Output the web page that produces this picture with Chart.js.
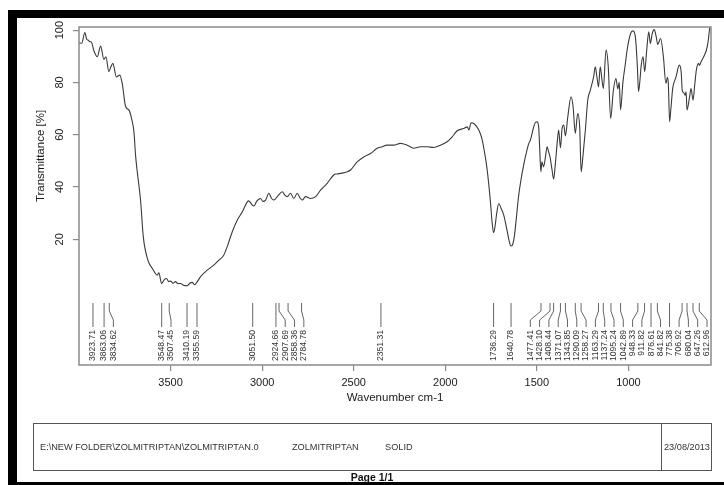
<!DOCTYPE html>
<html>
<head>
<meta charset="utf-8">
<title>ZOLMITRIPTAN IR spectrum</title>
<script src="https://cdn.jsdelivr.net/npm/chart.js@4.4.1/dist/chart.umd.min.js"></script>
<style>
  html, body { margin: 0; padding: 0; background: #fff; width: 724px; height: 485px; overflow: hidden; }
  #page { position: relative; width: 724px; height: 485px; overflow: hidden; background: #fff;
          font-family: "Liberation Sans", Arial, sans-serif; }
  #spec { position: absolute; left: 0; top: 0; }
  .bar { position: absolute; background: #000; }
  #footer { position: absolute; left: 33px; top: 423px; width: 679px; height: 48px;
            border: 1px solid #555; box-sizing: border-box; }
  #footer .sep { position: absolute; left: 627px; top: 0; bottom: 0; border-left: 1px solid #555; }
  .ft { position: absolute; font-size: 9.2px; color: #333; white-space: nowrap; line-height: 11px; }
  #pageno { position: absolute; left: 0; width: 744px; top: 471px; text-align: center;
            font-weight: bold; font-size: 10.5px; color: #111; }
</style>
</head>
<body>
<div id="page">
  <canvas id="spec" width="724" height="412"></canvas>
  <div class="bar" style="left:8px;top:10px;width:716px;height:8px"></div>
  <div class="bar" style="left:8px;top:10px;width:9px;height:475px"></div>
  <div class="bar" style="left:8px;top:482px;width:716px;height:3px"></div>
  <div id="footer"><div class="sep"></div></div>
  <div class="ft" style="left:40px;top:442px">E:\NEW FOLDER\ZOLMITRIPTAN\ZOLMITRIPTAN.0</div>
  <div class="ft" style="left:292px;top:442px">ZOLMITRIPTAN</div>
  <div class="ft" style="left:385px;top:442px">SOLID</div>
  <div class="ft" style="left:664px;top:442px">23/08/2013</div>
  <div id="pageno">Page 1/1</div>
</div>
<script>
// Spectrum trace: wavenumber (cm-1) and transmittance (%)
const wavenumber = [
  4000, 3985, 3968, 3958, 3951, 3940, 3933, 3918, 3900, 3882,
  3864, 3853, 3837, 3826, 3815, 3796, 3777, 3764, 3746, 3727,
  3713, 3700, 3691, 3683, 3664, 3649, 3624, 3600, 3573, 3564,
  3549, 3535, 3522, 3510, 3500, 3486, 3473, 3460, 3445, 3430,
  3409, 3395, 3382, 3368, 3354, 3336, 3300, 3264, 3236, 3209,
  3191, 3163, 3136, 3108, 3081, 3073, 3054, 3045, 3030, 3018,
  3009, 2995, 2981, 2963, 2950, 2936, 2915, 2890, 2875, 2863,
  2845, 2827, 2808, 2795, 2781, 2763, 2736, 2708, 2681, 2645,
  2609, 2590, 2572, 2535, 2517, 2481, 2445, 2408, 2372, 2344,
  2317, 2281, 2245, 2208, 2172, 2135, 2099, 2063, 2026, 1990,
  1962, 1935, 1899, 1880, 1871, 1859, 1841, 1817, 1800, 1785,
  1772, 1753, 1745, 1736, 1728, 1720, 1708, 1695, 1681, 1663,
  1650, 1641, 1632, 1623, 1612, 1600, 1586, 1572, 1554, 1544,
  1535, 1517, 1506, 1499, 1490, 1484, 1478, 1472, 1463, 1452,
  1444, 1436, 1428, 1418, 1408, 1400, 1390, 1381, 1371, 1362,
  1353, 1344, 1331, 1313, 1302, 1290, 1277, 1266, 1258, 1248,
  1235, 1222, 1208, 1190, 1181, 1172, 1163, 1154, 1145, 1137,
  1122, 1110, 1097, 1082, 1068, 1058, 1050, 1043, 1030, 1015,
  1007, 988, 975, 962, 951, 945, 938, 930, 920, 911,
  900, 889, 880, 870, 859, 848, 840, 824, 809, 795,
  787, 782, 775, 768, 758, 740, 722, 712, 706, 697,
  690, 685, 680, 666, 658, 647, 638, 629, 617, 612,
  603, 585, 574, 565, 556
];
const transmittance = [
  95.1, 95.0, 99.1, 96.5, 96.2, 95.6, 95.5, 92.0, 89.8, 93.9,
  88.8, 89.8, 84.1, 86.0, 87.3, 82.1, 82.8, 79.6, 70.9, 69.4,
  66.2, 61.1, 52.0, 46.5, 35.0, 21.0, 12.0, 8.9, 6.3, 7.2,
  3.1, 4.5, 5.0, 3.8, 4.0, 3.2, 3.8, 3.0, 3.1, 2.4,
  2.2, 3.2, 3.5, 2.6, 3.8, 5.7, 8.2, 10.1, 12.0, 14.0,
  17.1, 22.9, 27.3, 30.5, 34.3, 34.7, 33.1, 32.7, 34.5, 35.3,
  35.6, 34.5, 35.0, 37.6, 35.8, 35.0, 36.5, 38.2, 36.8, 36.3,
  37.6, 35.6, 37.6, 36.0, 35.0, 36.3, 35.6, 36.3, 38.8, 41.4,
  44.6, 45.0, 45.2, 45.8, 46.5, 49.6, 51.5, 52.8, 54.8, 55.4,
  56.0, 56.0, 56.7, 56.0, 54.8, 55.4, 55.4, 55.1, 56.0, 57.3,
  59.2, 61.5, 62.4, 63.0, 61.8, 64.6, 64.1, 61.8, 58.5, 53.0,
  47.0, 34.0, 27.0, 22.5, 25.0, 29.5, 33.7, 31.8, 29.3, 23.5,
  19.0, 17.4, 18.0, 21.0, 28.0, 36.3, 43.0, 48.4, 54.1, 56.7,
  58.0, 63.0, 64.8, 64.9, 63.0, 54.0, 45.8, 49.6, 47.7, 52.0,
  55.4, 53.5, 51.5, 47.0, 43.0, 48.0, 56.0, 61.8, 55.0, 62.5,
  63.7, 59.5, 66.8, 74.5, 70.7, 60.5, 68.1, 63.0, 45.8, 52.0,
  61.8, 73.2, 77.0, 82.1, 86.0, 82.1, 78.3, 86.0, 81.5, 77.7,
  92.4, 86.0, 66.2, 77.0, 81.5, 77.5, 80.0, 69.5, 80.0, 88.0,
  92.4, 98.7, 99.7, 97.4, 86.0, 76.5, 80.0, 86.6, 89.8, 84.1,
  92.4, 99.4, 94.9, 98.7, 100.2, 97.4, 94.5, 96.8, 89.8, 79.6,
  82.0, 79.5, 65.0, 70.0, 77.7, 82.1, 86.6, 84.1, 77.0, 76.0,
  75.1, 76.4, 69.4, 74.5, 77.7, 73.2, 79.0, 84.7, 87.3, 86.5,
  87.9, 90.4, 92.4, 95.5, 101.0
];

// Picked peak positions (cm-1)
const peakPositions = [
  3923.71, 3863.06, 3834.62, 3548.47, 3507.45, 3410.19, 3355.59, 3051.50,
  2924.66, 2907.69, 2858.36, 2784.78, 2351.31, 1736.29, 1640.78,
  1477.41, 1428.10, 1408.44, 1371.07, 1343.85, 1290.09, 1258.27, 1163.29,
  1137.24, 1095.24, 1042.89, 948.33, 911.82, 876.61, 841.82, 775.38,
  706.92, 680.04, 647.26, 612.96
];

const xTickValues = [1000, 1500, 2000, 2500, 3000, 3500];
const yTickValues = [20, 40, 60, 80, 100];

const FONT = '"Liberation Sans", Arial, sans-serif';
const AXIS_GREY = '#8a8a8a';

// Box around the plot, y-axis caption and the peak annotation leaders
const framePeaks = {
  id: 'framePeaks',
  afterDatasetsDraw(chart) {
    const { ctx, chartArea: a, scales: { x } } = chart;
    ctx.save();

    // spread labels so neighbouring texts do not collide
    const gap = 9.3;
    const px = peakPositions.map(v => x.getPixelForValue(v));
    const order = px.map((_, i) => i).sort((i, j) => px[i] - px[j]);
    const pos = new Array(px.length);
    let prev = -Infinity;
    order.forEach(i => { pos[i] = Math.max(px[i], prev + gap); prev = pos[i]; });
    let next = a.right - 4 + gap;
    order.slice().reverse().forEach(i => { pos[i] = Math.min(pos[i], next - gap); next = pos[i]; });

    const yTop = a.bottom - 62, yB1 = a.bottom - 54, yB2 = a.bottom - 45, yEnd = a.bottom - 38;
    const yText = a.bottom - 35;
    ctx.strokeStyle = '#555';
    ctx.lineWidth = 0.9;
    ctx.fillStyle = '#333';
    ctx.font = '8.6px ' + FONT;
    peakPositions.forEach((v, i) => {
      ctx.beginPath();
      ctx.moveTo(px[i], yTop);
      if (Math.abs(pos[i] - px[i]) < 0.5) {
        ctx.lineTo(px[i], yEnd);
      } else {
        ctx.lineTo(px[i], yB1);
        ctx.lineTo(pos[i], yB2);
        ctx.lineTo(pos[i], yEnd);
      }
      ctx.stroke();
      ctx.save();
      ctx.translate(pos[i], yText);
      ctx.rotate(-Math.PI / 2);
      ctx.textAlign = 'right';
      ctx.textBaseline = 'middle';
      ctx.fillText(v.toFixed(2), 0, 0);
      ctx.restore();
    });

    // plot frame
    ctx.strokeStyle = AXIS_GREY;
    ctx.lineWidth = 1.5;
    ctx.strokeRect(a.left, a.top, a.right - a.left, a.bottom - a.top);

    // y-axis caption
    ctx.save();
    ctx.translate(41, 156);
    ctx.rotate(-Math.PI / 2);
    ctx.fillStyle = '#1a1a1a';
    ctx.font = '11.5px ' + FONT;
    ctx.textAlign = 'center';
    ctx.textBaseline = 'middle';
    ctx.fillText('Transmittance [%]', 0, 0);
    ctx.restore();

    ctx.restore();
  }
};

new Chart(document.getElementById('spec'), {
  type: 'line',
  data: {
    datasets: [{
      data: wavenumber.map((w, i) => ({ x: w, y: transmittance[i] })),
      borderColor: '#3a3a3a',
      borderWidth: 1.1,
      pointRadius: 0,
      cubicInterpolationMode: 'monotone',
      fill: false
    }]
  },
  options: {
    responsive: false,
    animation: false,
    devicePixelRatio: 1,
    layout: { padding: { left: 0, top: 27, right: 13, bottom: 0 } },
    plugins: { legend: { display: false }, tooltip: { enabled: false } },
    scales: {
      x: {
        type: 'linear', reverse: true, min: 549, max: 4000,
        afterBuildTicks: s => { s.ticks = xTickValues.map(v => ({ value: v })); },
        afterFit: s => { s.height = 47; },
        grid: { display: true, drawOnChartArea: false, drawTicks: true, tickLength: 6, color: AXIS_GREY, lineWidth: 1.2 },
        border: { display: false },
        ticks: { color: '#1a1a1a', font: { family: FONT, size: 11 }, padding: 5, maxRotation: 0, autoSkip: false,
                 callback: v => String(v) },
        title: { display: true, text: 'Wavenumber cm-1', color: '#1a1a1a',
                 font: { family: FONT, size: 11.5 }, padding: { top: 0, bottom: 7 } }
      },
      y: {
        type: 'linear', min: -28.1, max: 101.2,
        afterBuildTicks: s => { s.ticks = yTickValues.map(v => ({ value: v })); },
        afterFit: s => { s.width = 79; },
        grid: { display: true, drawOnChartArea: false, drawTicks: true, tickLength: 6, color: AXIS_GREY, lineWidth: 1.2 },
        border: { display: false },
        ticks: { color: '#1a1a1a', font: { family: FONT, size: 11 }, padding: 4,
                 minRotation: 90, maxRotation: 90, crossAlign: 'center', autoSkip: false,
                 callback: v => String(v) }
      }
    }
  },
  plugins: [framePeaks]
});
</script>
</body>
</html>
